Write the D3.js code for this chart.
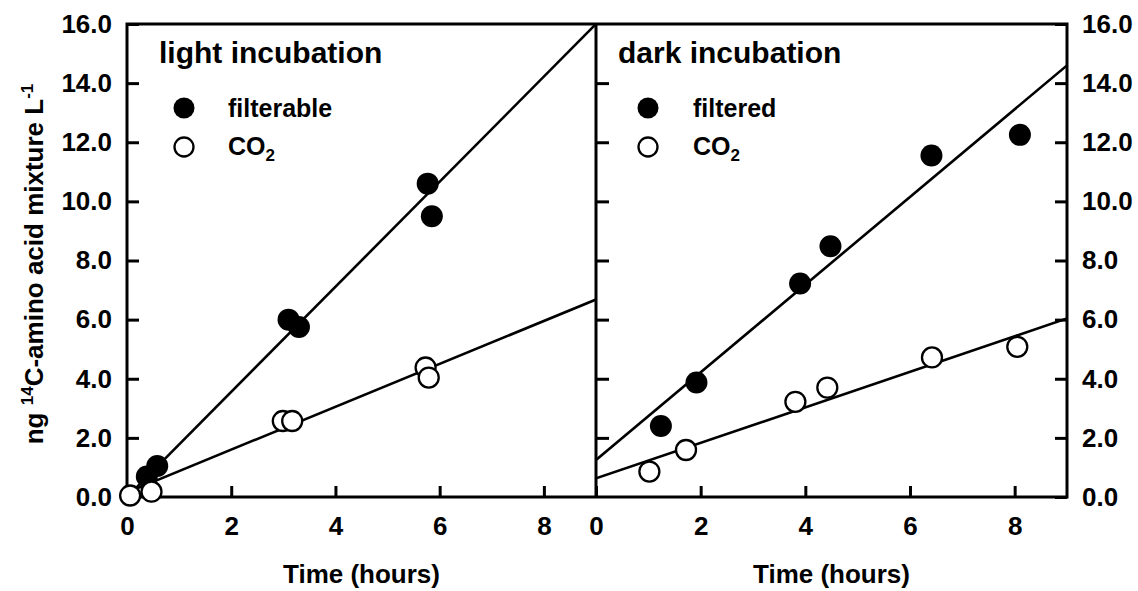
<!DOCTYPE html>
<html>
<head>
<meta charset="utf-8">
<script src="https://cdn.jsdelivr.net/npm/d3@7"></script>
<style>
  html, body { margin: 0; padding: 0; background: #fff; }
  svg { display: block; }
  text { font-family: "Liberation Sans", Arial, Helvetica, sans-serif; font-weight: bold; fill: #000; }
</style>
</head>
<body>
<svg id="chart" width="1138" height="591"></svg>
<script>
// ---- data ----
const xTicks = [0, 2, 4, 6, 8];
const yTicks = [0, 2, 4, 6, 8, 10, 12, 14, 16];
const yTickLabels = ["0.0", "2.0", "4.0", "6.0", "8.0", "10.0", "12.0", "14.0", "16.0"];

const lightFilterableHours = [0.38, 0.58, 3.1, 3.3, 5.77, 5.85];
const lightFilterableValues = [0.69, 1.05, 6.0, 5.75, 10.6, 9.5];
const lightCO2Hours = [0.06, 0.47, 2.99, 3.17, 5.73, 5.79];
const lightCO2Values = [0.05, 0.18, 2.57, 2.57, 4.38, 4.04];

const darkFilteredHours = [1.24, 1.92, 3.9, 4.48, 6.41, 8.1];
const darkFilteredValues = [2.4, 3.87, 7.22, 8.48, 11.55, 12.25];
const darkCO2Hours = [1.02, 1.72, 3.81, 4.42, 6.42, 8.05];
const darkCO2Values = [0.86, 1.59, 3.22, 3.7, 4.72, 5.08];

// regression lines: values at the ends of the time range
const fitHours = [0, 9];
const lightFilterableFit = [0.0, 16.0];
const lightCO2Fit = [0.15, 6.68];
const darkFilteredFit = [1.25, 14.6];
const darkCO2Fit = [0.63, 6.04];

// ---- layout ----
const svg = d3.select("#chart");
const yTop = 24, yBot = 497;
const xL = d3.scaleLinear().domain([0, 9]).range([127, 596]);
const xR = d3.scaleLinear().domain([0, 9]).range([596, 1067]);
const y = d3.scaleLinear().domain([0, 16]).range([yBot, yTop]);
const FS = 26;
const AX = 3;

function styleAxis(g) {
  g.select(".domain").remove();
  g.selectAll(".tick line").attr("stroke", "#000").attr("stroke-width", AX);
  g.selectAll(".tick text").attr("font-size", FS).attr("font-family", '"Liberation Sans", Arial, sans-serif').attr("font-weight", "bold").attr("fill", "#000");
}

// left y axis
svg.append("g").attr("transform", `translate(${xL(0)},0)`)
  .call(d3.axisLeft(y).tickValues(yTicks).tickFormat((d, i) => yTickLabels[i]).tickSize(-12).tickPadding(15))
  .call(styleAxis);
// right y axis
svg.append("g").attr("transform", `translate(${xR(9)},0)`)
  .call(d3.axisRight(y).tickValues(yTicks).tickFormat((d, i) => yTickLabels[i]).tickSize(-12).tickPadding(15))
  .call(styleAxis);
// divider ticks (into the right panel)
svg.append("g").attr("transform", `translate(${xR(0)},0)`)
  .call(d3.axisRight(y).tickValues(yTicks.slice(1, -1)).tickFormat("").tickSize(13))
  .call(styleAxis);
// bottom axes
[xL, xR].forEach(xs => {
  svg.append("g").attr("transform", `translate(0,${yBot})`)
    .call(d3.axisBottom(xs).tickValues(xTicks).tickFormat(d3.format("d")).tickSize(-11).tickPadding(20))
    .call(styleAxis);
});

// frame
const frame = svg.append("g").attr("stroke", "#000").attr("stroke-width", AX).attr("fill", "none");
frame.append("rect").attr("x", xL(0)).attr("y", yTop).attr("width", xR(9) - xL(0)).attr("height", yBot - yTop);
frame.append("line").attr("x1", xR(0)).attr("x2", xR(0)).attr("y1", yTop).attr("y2", yBot);

// clip for fit lines
const defs = svg.append("defs");
defs.append("clipPath").attr("id", "clipL").append("rect")
  .attr("x", xL(0)).attr("y", yTop).attr("width", xL(9) - xL(0)).attr("height", yBot - yTop);
defs.append("clipPath").attr("id", "clipR").append("rect")
  .attr("x", xR(0)).attr("y", yTop).attr("width", xR(9) - xR(0)).attr("height", yBot - yTop);

function panel(xs, clip, fits, filled, open) {
  const g = svg.append("g");
  const lg = g.append("g").attr("clip-path", `url(#${clip})`);
  const line = d3.line().x(d => xs(d[0])).y(d => y(d[1]));
  fits.forEach(f => {
    lg.append("path").datum(fitHours.map((h, i) => [h, f[i]]))
      .attr("d", line).attr("fill", "none").attr("stroke", "#000").attr("stroke-width", 2.6);
  });
  g.selectAll(".f").data(filled[0].map((h, i) => [h, filled[1][i]])).enter()
    .append("circle").attr("cx", d => xs(d[0])).attr("cy", d => y(d[1])).attr("r", 11).attr("fill", "#000");
  g.selectAll(".o").data(open[0].map((h, i) => [h, open[1][i]])).enter()
    .append("circle").attr("cx", d => xs(d[0])).attr("cy", d => y(d[1])).attr("r", 10)
    .attr("fill", "#fff").attr("stroke", "#000").attr("stroke-width", 2.3);
}
panel(xL, "clipL", [lightFilterableFit, lightCO2Fit], [lightFilterableHours, lightFilterableValues], [lightCO2Hours, lightCO2Values]);
panel(xR, "clipR", [darkFilteredFit, darkCO2Fit], [darkFilteredHours, darkFilteredValues], [darkCO2Hours, darkCO2Values]);

// titles & legends
function legend(titleX, markX, textX, title, label1) {
  svg.append("text").attr("x", titleX).attr("y", 63).attr("font-size", 30).text(title);
  svg.append("circle").attr("cx", markX).attr("cy", 108).attr("r", 10.5).attr("fill", "#000");
  svg.append("circle").attr("cx", markX).attr("cy", 147).attr("r", 9.5).attr("fill", "#fff").attr("stroke", "#000").attr("stroke-width", 2.3);
  svg.append("text").attr("x", textX).attr("y", 117).attr("font-size", 25).text(label1);
  const t = svg.append("text").attr("x", textX).attr("y", 155).attr("font-size", 25);
  t.append("tspan").text("CO");
  t.append("tspan").attr("font-size", 17).attr("dy", 6).text("2");
}
legend(159, 184, 228, "light incubation", "filterable");
legend(618, 648, 693, "dark incubation", "filtered");

// x axis titles
[xL, xR].forEach(xs => {
  svg.append("text").attr("x", (xs(0) + xs(9)) / 2).attr("y", 583).attr("text-anchor", "middle")
    .attr("font-size", FS).text("Time (hours)");
});

// y axis title
const yt = svg.append("text").attr("transform", `translate(43,264) rotate(-90)`)
  .attr("text-anchor", "middle").attr("font-size", FS);
yt.append("tspan").text("ng ");
yt.append("tspan").attr("font-size", 17).attr("dy", -10).text("14");
yt.append("tspan").attr("dy", 10).text("C-amino acid mixture L");
yt.append("tspan").attr("font-size", 17).attr("dy", -10).text("-1");
</script>
</body>
</html>
